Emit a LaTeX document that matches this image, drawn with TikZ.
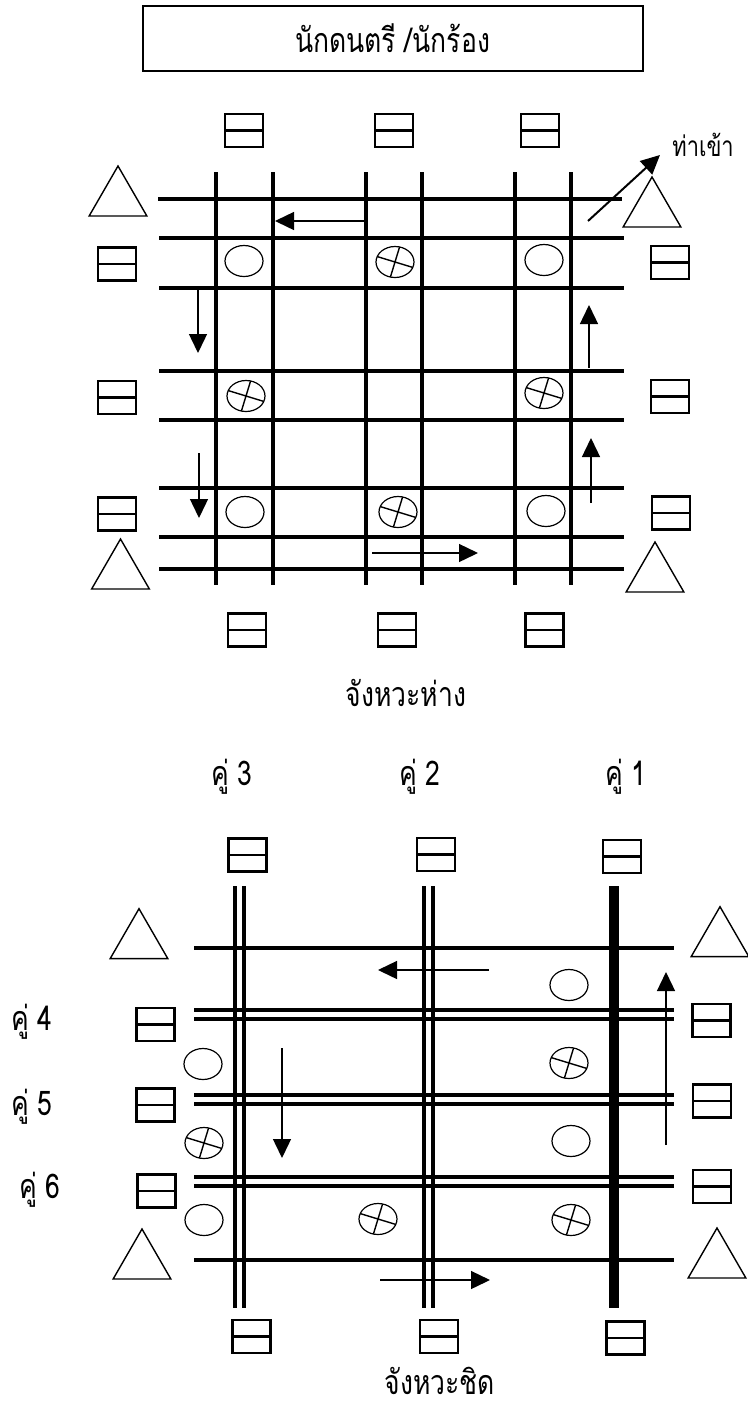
\documentclass[tikz,border=0pt]{standalone}
\usepackage{fontspec}
\newfontfamily\thaifont[Script=Thai, FakeStretch=0.78]{Loma}
\usepackage{tikz}
\usetikzlibrary{arrows.meta,shapes.geometric}

\begin{document}
\begin{tikzpicture}[x=0.5pt, y=-0.5pt,
    >={Triangle[length=9.5pt,width=9pt]},
    font=\thaifont\fontsize{17pt}{19pt}\selectfont,
    road/.style={line width=2.3pt},
    lane/.style={line width=2pt},
    walk/.style={->, line width=0.7pt},
    seat/.style={draw, line width=1.3pt, minimum width=19pt,
        minimum height=16.5pt, inner sep=0pt,
        path picture={\draw[line width=1.3pt]
            (path picture bounding box.west) --
            (path picture bounding box.east);}},
    tri/.style={draw, regular polygon, regular polygon sides=3,
        minimum size=33.3pt, inner sep=0pt, line width=0.7pt},
    oval/.style={draw, ellipse, minimum width=19pt,
        minimum height=15.5pt, inner sep=0pt, line width=0.6pt},
    xoval/.style={oval, path picture={\draw[line width=0.7pt]
            (path picture bounding box.center) ++(-17:15pt) -- ++(163:30pt)
            (path picture bounding box.center) ++(73:15pt) -- ++(253:30pt);}}]

\useasboundingbox (0,0) rectangle (748,1409);

% Titol
\node (title) [draw, line width=1pt, minimum width=250pt,
    minimum height=32.5pt] at (392.5,38) {นักดนตรี /นักร้อง};

% Graella jangwa haang
\foreach \x in {216,273,366,422,515,571}
    \draw[road] (\x,172) -- (\x,585);
\draw[road] (158,199) -- (622,199);
\foreach \y in {238,288,371,420,488,537,569}
    \draw[road] (159,\y) -- (624,\y);

% Seients
\foreach \n/\x/\y in {a/244/130.5, b/394/130.5, c/540/130.5,
        d/117/264, e/117/397.5, f/117/514,
        g/670/262.5, h/670/396.5, i/671/513,
        j/247/630, k/397/630, l/544.5/630}
    \node[seat] (ha\n) at (\x,\y) {};

% Triangles
\node[tri] (htl) at (118,199.3) {};
\node[tri] (hbl) at (120.5,572.3) {};
\node[tri] (htr) at (652,210.3) {};
\node[tri] (hbr) at (655,575.3) {};

% Ovals
\foreach \n/\x/\y in {a/244/261, b/544/260, c/245/512, d/546/511}
    \node[oval] (ho\n) at (\x,\y) {};
\foreach \n/\x/\y in {a/395/262, b/246/396, c/544/393, d/398/512}
    \node[xoval] (hx\n) at (\x,\y) {};

% Fletxes
\draw[walk] (366,221) -- (275,221);
\draw[walk] (198,288) -- (198,353);
\draw[walk] (199,453) -- (199,518);
\draw[walk] (589,368) -- (589,305);
\draw[walk] (591,503) -- (591,438);
\draw[walk] (372,553) -- (478,553);
\draw[walk, line width=1pt] (588,221) -- (660,155);

\node (entry) [anchor=west, inner sep=0pt,
    font=\thaifont\fontsize{14pt}{16pt}\selectfont] at (672,145) {ท่าเข้า};
\node (haang) [inner sep=0pt] at (406,693) {จังหวะห่าง};

% Graella jangwa chit
\foreach \x in {235,244,424,433}
    \draw[lane] (\x,886) -- (\x,1308);
\draw[line width=5pt] (614,886) -- (614,1308);
\foreach \y in {948,1260}
    \draw[road] (194,\y) -- (674,\y);
\foreach \y in {1010,1019,1095,1104,1177,1186}
    \draw[lane] (194,\y) -- (674,\y);

% Parelles
\node (p3) at (232,777) {คู่ 3};
\node (p2) at (420,777) {คู่ 2};
\node (p1) at (626,777) {คู่ 1};
\node (p4) at (32,1022) {คู่ 4};
\node (p5) at (32,1107) {คู่ 5};
\node (p6) at (40,1190) {คู่ 6};

% Seients
\foreach \n/\x/\y in {a/247.5/855, b/436/854.5, c/622/856.5,
        d/155.5/1024.5, e/155.5/1105, f/156.5/1191,
        g/711.5/1020.5, h/712/1101, i/712/1186.5,
        j/251.5/1336.5, k/439/1336.5, l/625.5/1338}
    \node[seat] (ch\n) at (\x,\y) {};

% Triangles
\node[tri] (ctl) at (139,942) {};
\node[tri] (cbl) at (142,1262.3) {};
\node[tri] (ctr) at (720,940) {};
\node[tri] (cbr) at (717,1261.3) {};

% Ovals
\foreach \n/\x/\y in {a/569/985, b/203/1064, c/571/1141, d/204/1220}
    \node[oval] (co\n) at (\x,\y) {};
\foreach \n/\x/\y in {a/569/1063, b/204/1143, c/571/1220, d/378/1219}
    \node[xoval] (cx\n) at (\x,\y) {};

% Fletxes
\draw[walk] (489,970) -- (378,970);
\draw[walk] (282,1048) -- (282,1158);
\draw[walk] (666,1145) -- (666,972);
\draw[walk] (380,1280) -- (490,1280);

\node (chit) [inner sep=0pt] at (440,1381) {จังหวะชิด};

\end{tikzpicture}
\end{document}
